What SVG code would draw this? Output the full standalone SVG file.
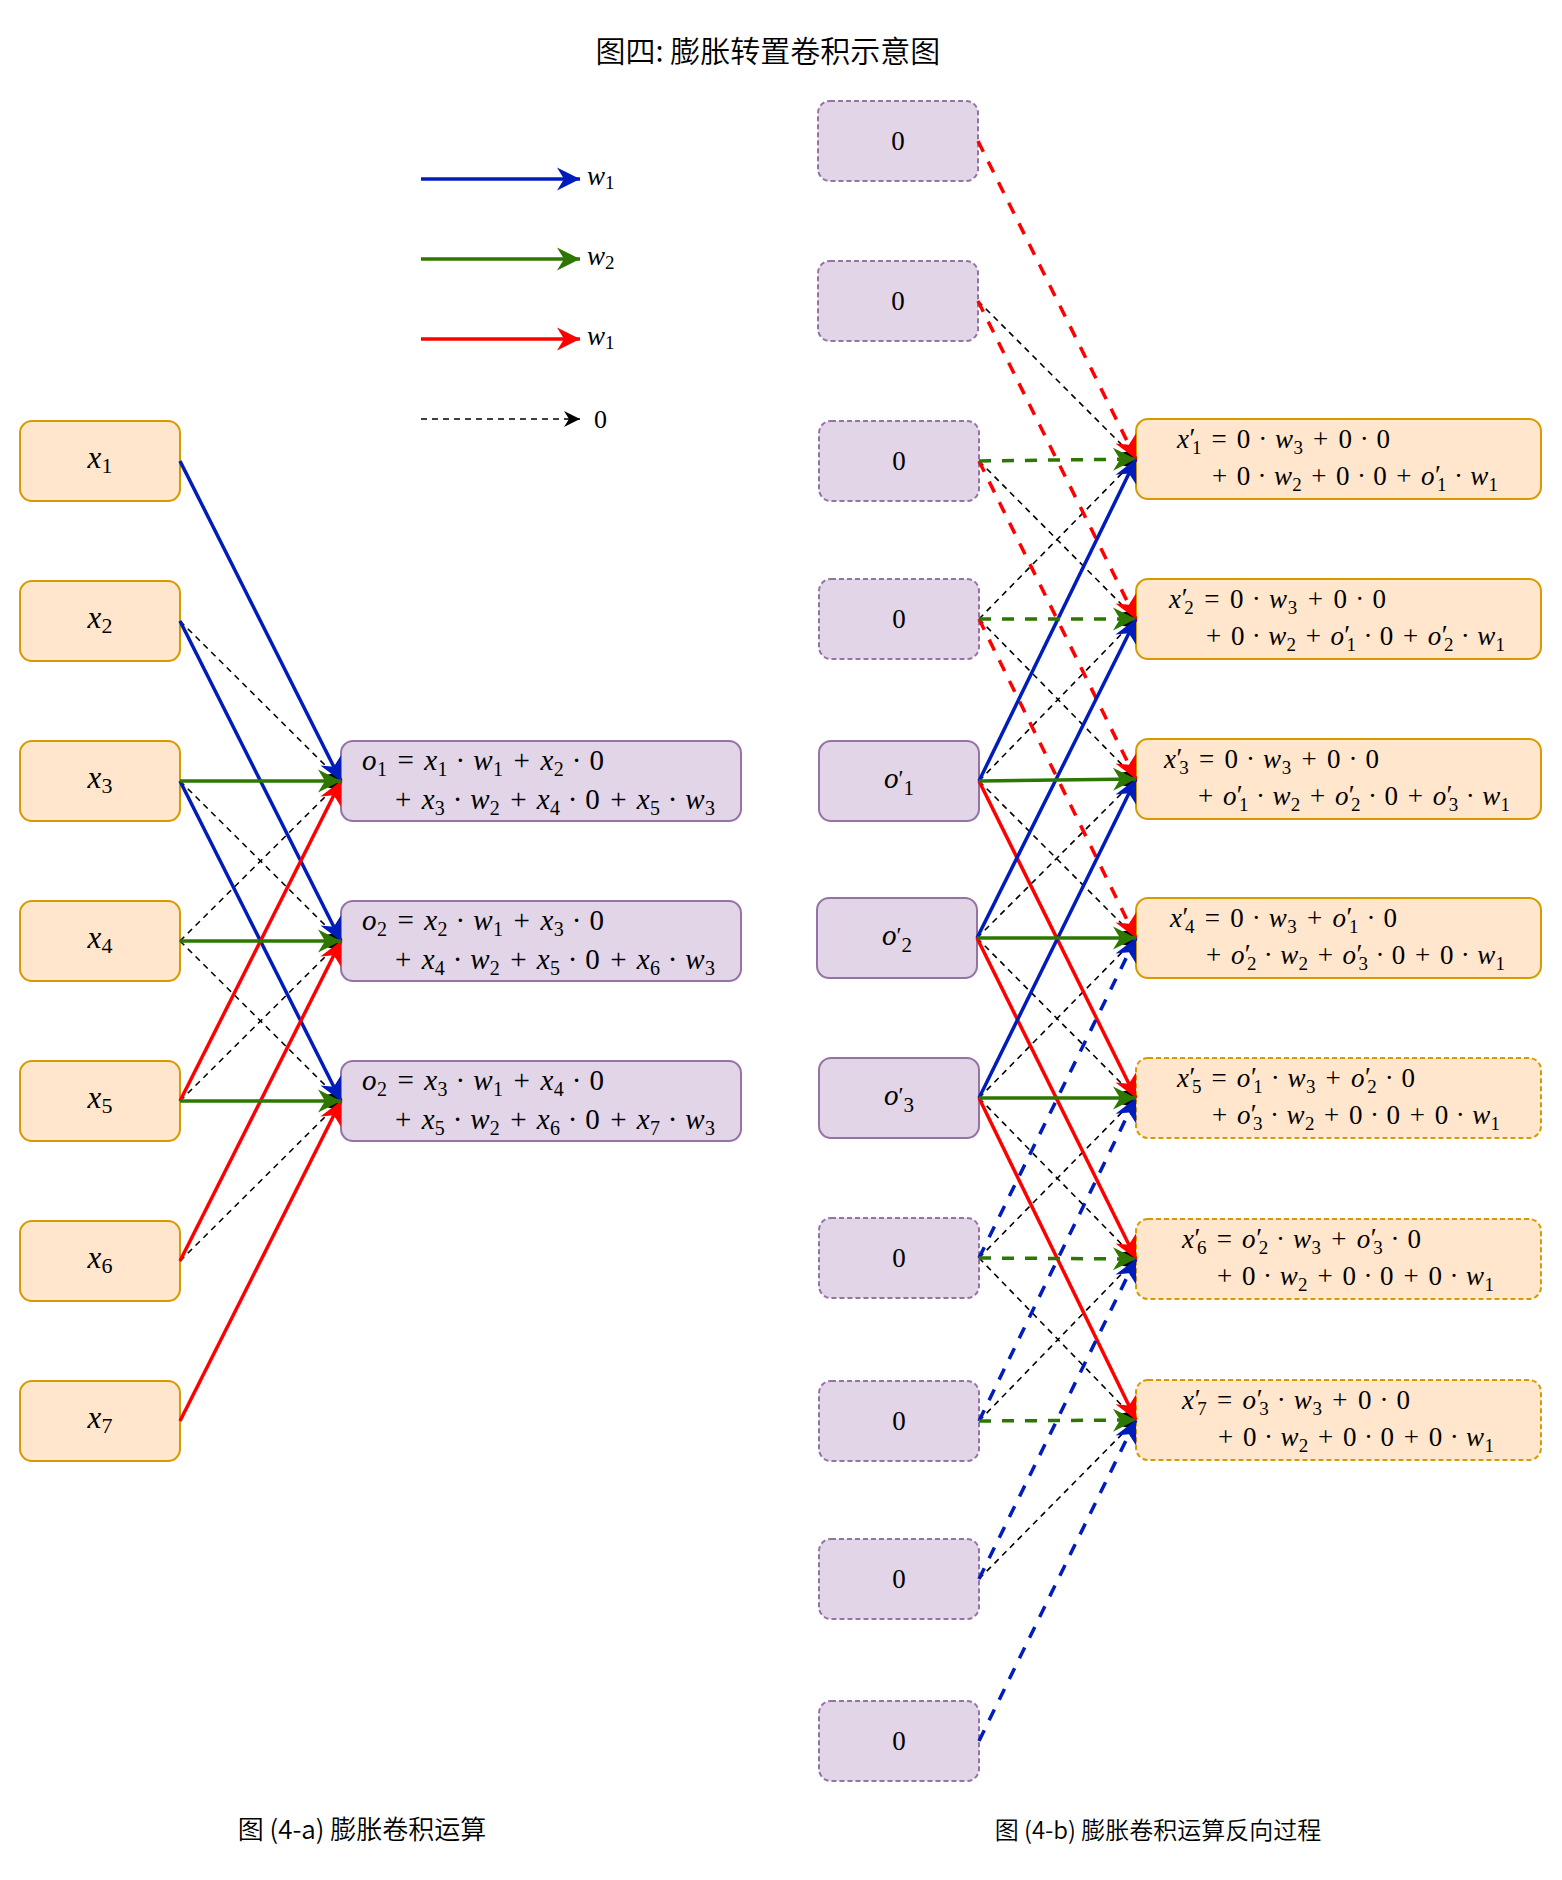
<svg xmlns="http://www.w3.org/2000/svg" width="1562" height="1880" viewBox="0 0 1562 1880">
<style>
.t { font-family: "Noto Sans CJK SC", "Noto Sans", sans-serif; font-weight: 350; fill:#000; }
.m { font-family: "Liberation Serif", "DejaVu Serif", serif; fill:#000; }
.it { font-style: italic; }
.eq { font-size: 27px; }
.eq2 { font-size: 29px; }
.sb { font-size: 19px; }
.sb2 { font-size: 20px; }
.nOr { fill:#ffe6cc; stroke:#d79b00; stroke-width:2; }
.nPu { fill:#e1d5e7; stroke:#9673a6; stroke-width:2; }
.dsh { stroke-dasharray: 5 3; }
.c { fill:none; stroke-width:3.5; }
.cb { stroke:#001DBC; marker-end:url(#mB); }
.cg { stroke:#2D7600; marker-end:url(#mG); }
.cr { stroke:#FF0000; marker-end:url(#mR); }
.d { stroke-dasharray: 12 11; }
.k { fill:none; stroke:#000; stroke-width:1.6; stroke-dasharray:6 5; marker-end:url(#mK); }
</style>
<defs>
<marker id="mB" viewBox="-26 -14 28 28" refX="0" refY="0" markerWidth="28" markerHeight="28" markerUnits="userSpaceOnUse" orient="auto"><path d="M0,0 L-23,-11.5 L-16,0 L-23,11.5 Z" fill="#001DBC"/></marker>
<marker id="mG" viewBox="-26 -14 28 28" refX="0" refY="0" markerWidth="28" markerHeight="28" markerUnits="userSpaceOnUse" orient="auto"><path d="M0,0 L-23,-11.5 L-16,0 L-23,11.5 Z" fill="#2D7600"/></marker>
<marker id="mR" viewBox="-26 -14 28 28" refX="0" refY="0" markerWidth="28" markerHeight="28" markerUnits="userSpaceOnUse" orient="auto"><path d="M0,0 L-23,-11.5 L-16,0 L-23,11.5 Z" fill="#FF0000"/></marker>
<marker id="mK" viewBox="-18 -10 20 20" refX="0" refY="0" markerWidth="20" markerHeight="20" markerUnits="userSpaceOnUse" orient="auto"><path d="M0,0 L-16,-8 L-11,0 L-16,8 Z" fill="#000"/></marker>
</defs>
<rect x="0" y="0" width="1562" height="1880" fill="#ffffff"/>

<g id="title"><text class="t" x="768" y="62" font-size="30" text-anchor="middle">图四: 膨胀转置卷积示意图</text></g>

<g id="legend">
<line class="c cb" x1="421" y1="179" x2="580" y2="179"/>
<line class="c cg" x1="421" y1="259" x2="580" y2="259"/>
<line class="c cr" x1="421" y1="339" x2="580" y2="339"/>
<line class="k" x1="421" y1="419" x2="580" y2="419"/>
<text class="m" x="587" y="185" font-size="27" fill="#0000FF"><tspan class="it">w</tspan><tspan font-size="19" dy="4">1</tspan></text>
<text class="m" x="587" y="265" font-size="27" fill="#2D7600"><tspan class="it">w</tspan><tspan font-size="19" dy="4">2</tspan></text>
<text class="m" x="587" y="345" font-size="27" fill="#FF0000"><tspan class="it">w</tspan><tspan font-size="19" dy="4">1</tspan></text>
<text class="m" x="600.5" y="428" font-size="26" text-anchor="middle">0</text>
</g>

<!-- left input nodes -->
<g id="x1"><rect class="nOr" x="20" y="421" width="160" height="80" rx="12"/><text class="m" x="100" y="468" font-size="31" text-anchor="middle"><tspan class="it">x</tspan><tspan font-size="22" dy="5">1</tspan></text></g>
<g id="x2"><rect class="nOr" x="20" y="581" width="160" height="80" rx="12"/><text class="m" x="100" y="628" font-size="31" text-anchor="middle"><tspan class="it">x</tspan><tspan font-size="22" dy="5">2</tspan></text></g>
<g id="x3"><rect class="nOr" x="20" y="741" width="160" height="80" rx="12"/><text class="m" x="100" y="788" font-size="31" text-anchor="middle"><tspan class="it">x</tspan><tspan font-size="22" dy="5">3</tspan></text></g>
<g id="x4"><rect class="nOr" x="20" y="901" width="160" height="80" rx="12"/><text class="m" x="100" y="948" font-size="31" text-anchor="middle"><tspan class="it">x</tspan><tspan font-size="22" dy="5">4</tspan></text></g>
<g id="x5"><rect class="nOr" x="20" y="1061" width="160" height="80" rx="12"/><text class="m" x="100" y="1108" font-size="31" text-anchor="middle"><tspan class="it">x</tspan><tspan font-size="22" dy="5">5</tspan></text></g>
<g id="x6"><rect class="nOr" x="20" y="1221" width="160" height="80" rx="12"/><text class="m" x="100" y="1268" font-size="31" text-anchor="middle"><tspan class="it">x</tspan><tspan font-size="22" dy="5">6</tspan></text></g>
<g id="x7"><rect class="nOr" x="20" y="1381" width="160" height="80" rx="12"/><text class="m" x="100" y="1428" font-size="31" text-anchor="middle"><tspan class="it">x</tspan><tspan font-size="22" dy="5">7</tspan></text></g>

<!-- left output nodes -->
<g id="o1"><rect class="nPu" x="341" y="741" width="400" height="80" rx="12"/>
<text class="m eq2" x="362" y="770" textLength="242"><tspan class="it">o</tspan><tspan class="sb2" dy="6">1</tspan><tspan dy="-6">&#8196;=&#8196;</tspan><tspan class="it">x</tspan><tspan class="sb2" dy="6">1</tspan><tspan dy="-6"> · </tspan><tspan class="it">w</tspan><tspan class="sb2" dy="6">1</tspan><tspan dy="-6">&#8196;+&#8196;</tspan><tspan class="it">x</tspan><tspan class="sb2" dy="6">2</tspan><tspan dy="-6"> · 0</tspan></text>
<text class="m eq2" x="395" y="809" textLength="320">+&#8196;<tspan class="it">x</tspan><tspan class="sb2" dy="6">3</tspan><tspan dy="-6"> · </tspan><tspan class="it">w</tspan><tspan class="sb2" dy="6">2</tspan><tspan dy="-6">&#8196;+&#8196;</tspan><tspan class="it">x</tspan><tspan class="sb2" dy="6">4</tspan><tspan dy="-6"> · 0&#8196;+&#8196;</tspan><tspan class="it">x</tspan><tspan class="sb2" dy="6">5</tspan><tspan dy="-6"> · </tspan><tspan class="it">w</tspan><tspan class="sb2" dy="6">3</tspan></text></g>
<g id="o2"><rect class="nPu" x="341" y="901" width="400" height="80" rx="12"/>
<text class="m eq2" x="362" y="930" textLength="242"><tspan class="it">o</tspan><tspan class="sb2" dy="6">2</tspan><tspan dy="-6">&#8196;=&#8196;</tspan><tspan class="it">x</tspan><tspan class="sb2" dy="6">2</tspan><tspan dy="-6"> · </tspan><tspan class="it">w</tspan><tspan class="sb2" dy="6">1</tspan><tspan dy="-6">&#8196;+&#8196;</tspan><tspan class="it">x</tspan><tspan class="sb2" dy="6">3</tspan><tspan dy="-6"> · 0</tspan></text>
<text class="m eq2" x="395" y="969" textLength="320">+&#8196;<tspan class="it">x</tspan><tspan class="sb2" dy="6">4</tspan><tspan dy="-6"> · </tspan><tspan class="it">w</tspan><tspan class="sb2" dy="6">2</tspan><tspan dy="-6">&#8196;+&#8196;</tspan><tspan class="it">x</tspan><tspan class="sb2" dy="6">5</tspan><tspan dy="-6"> · 0&#8196;+&#8196;</tspan><tspan class="it">x</tspan><tspan class="sb2" dy="6">6</tspan><tspan dy="-6"> · </tspan><tspan class="it">w</tspan><tspan class="sb2" dy="6">3</tspan></text></g>
<g id="o3"><rect class="nPu" x="341" y="1061" width="400" height="80" rx="12"/>
<text class="m eq2" x="362" y="1090" textLength="242"><tspan class="it">o</tspan><tspan class="sb2" dy="6">2</tspan><tspan dy="-6">&#8196;=&#8196;</tspan><tspan class="it">x</tspan><tspan class="sb2" dy="6">3</tspan><tspan dy="-6"> · </tspan><tspan class="it">w</tspan><tspan class="sb2" dy="6">1</tspan><tspan dy="-6">&#8196;+&#8196;</tspan><tspan class="it">x</tspan><tspan class="sb2" dy="6">4</tspan><tspan dy="-6"> · 0</tspan></text>
<text class="m eq2" x="395" y="1129" textLength="320">+&#8196;<tspan class="it">x</tspan><tspan class="sb2" dy="6">5</tspan><tspan dy="-6"> · </tspan><tspan class="it">w</tspan><tspan class="sb2" dy="6">2</tspan><tspan dy="-6">&#8196;+&#8196;</tspan><tspan class="it">x</tspan><tspan class="sb2" dy="6">6</tspan><tspan dy="-6"> · 0&#8196;+&#8196;</tspan><tspan class="it">x</tspan><tspan class="sb2" dy="6">7</tspan><tspan dy="-6"> · </tspan><tspan class="it">w</tspan><tspan class="sb2" dy="6">3</tspan></text></g>

<!-- right source column -->
<g id="r1"><rect class="nPu dsh" x="818" y="101" width="160" height="80" rx="12"/><text class="m" x="898" y="149.5" font-size="27" text-anchor="middle">0</text></g>
<g id="r2"><rect class="nPu dsh" x="818" y="261" width="160" height="80" rx="12"/><text class="m" x="898" y="309.5" font-size="27" text-anchor="middle">0</text></g>
<g id="r3"><rect class="nPu dsh" x="819" y="421" width="160" height="80" rx="12"/><text class="m" x="899" y="469.5" font-size="27" text-anchor="middle">0</text></g>
<g id="r4"><rect class="nPu dsh" x="819" y="579" width="160" height="80" rx="12"/><text class="m" x="899" y="627.5" font-size="27" text-anchor="middle">0</text></g>
<g id="r5"><rect class="nPu" x="819" y="741" width="160" height="80" rx="12"/><text class="m" x="899" y="788" font-size="29" text-anchor="middle"><tspan class="it">o</tspan><tspan font-size="23" dy="-2">′</tspan><tspan font-size="21" dy="9">1</tspan></text></g>
<g id="r6"><rect class="nPu" x="817" y="898" width="160" height="80" rx="12"/><text class="m" x="897" y="945" font-size="29" text-anchor="middle"><tspan class="it">o</tspan><tspan font-size="23" dy="-2">′</tspan><tspan font-size="21" dy="9">2</tspan></text></g>
<g id="r7"><rect class="nPu" x="819" y="1058" width="160" height="80" rx="12"/><text class="m" x="899" y="1105" font-size="29" text-anchor="middle"><tspan class="it">o</tspan><tspan font-size="23" dy="-2">′</tspan><tspan font-size="21" dy="9">3</tspan></text></g>
<g id="r8"><rect class="nPu dsh" x="819" y="1218" width="160" height="80" rx="12"/><text class="m" x="899" y="1266.5" font-size="27" text-anchor="middle">0</text></g>
<g id="r9"><rect class="nPu dsh" x="819" y="1381" width="160" height="80" rx="12"/><text class="m" x="899" y="1429.5" font-size="27" text-anchor="middle">0</text></g>
<g id="r10"><rect class="nPu dsh" x="819" y="1539" width="160" height="80" rx="12"/><text class="m" x="899" y="1587.5" font-size="27" text-anchor="middle">0</text></g>
<g id="r11"><rect class="nPu dsh" x="819" y="1701" width="160" height="80" rx="12"/><text class="m" x="899" y="1749.5" font-size="27" text-anchor="middle">0</text></g>

<!-- right target column -->
<g id="xp1"><rect class="nOr" x="1136" y="419" width="405" height="80" rx="12"/>
<text class="m eq" x="1177" y="447.5" textLength="213"><tspan class="it">x</tspan><tspan dy="-1">′</tspan><tspan class="sb" dx="-4" dy="7">1</tspan><tspan dy="-6">&#8196;=&#8196;0 · </tspan><tspan class="it">w</tspan><tspan class="sb" dy="6">3</tspan><tspan dy="-6">&#8196;+&#8196;0 · 0</tspan></text>
<text class="m eq" x="1212" y="484.5" textLength="286">+&#8196;0 · <tspan class="it">w</tspan><tspan class="sb" dy="6">2</tspan><tspan dy="-6">&#8196;+&#8196;0 · 0&#8196;+&#8196;</tspan><tspan class="it">o</tspan><tspan dy="-1">′</tspan><tspan class="sb" dx="-4" dy="7">1</tspan><tspan dy="-6"> · </tspan><tspan class="it">w</tspan><tspan class="sb" dy="6">1</tspan></text></g>
<g id="xp2"><rect class="nOr" x="1136" y="579" width="405" height="80" rx="12"/>
<text class="m eq" x="1169" y="607.5" textLength="217"><tspan class="it">x</tspan><tspan dy="-1">′</tspan><tspan class="sb" dx="-4" dy="7">2</tspan><tspan dy="-6">&#8196;=&#8196;0 · </tspan><tspan class="it">w</tspan><tspan class="sb" dy="6">3</tspan><tspan dy="-6">&#8196;+&#8196;0 · 0</tspan></text>
<text class="m eq" x="1206" y="644.5" textLength="299">+&#8196;0 · <tspan class="it">w</tspan><tspan class="sb" dy="6">2</tspan><tspan dy="-6">&#8196;+&#8196;</tspan><tspan class="it">o</tspan><tspan dy="-1">′</tspan><tspan class="sb" dx="-4" dy="7">1</tspan><tspan dy="-6"> · 0&#8196;+&#8196;</tspan><tspan class="it">o</tspan><tspan dy="-1">′</tspan><tspan class="sb" dx="-4" dy="7">2</tspan><tspan dy="-6"> · </tspan><tspan class="it">w</tspan><tspan class="sb" dy="6">1</tspan></text></g>
<g id="xp3"><rect class="nOr" x="1136" y="739" width="405" height="80" rx="12"/>
<text class="m eq" x="1164" y="767.5" textLength="215"><tspan class="it">x</tspan><tspan dy="-1">′</tspan><tspan class="sb" dx="-4" dy="7">3</tspan><tspan dy="-6">&#8196;=&#8196;0 · </tspan><tspan class="it">w</tspan><tspan class="sb" dy="6">3</tspan><tspan dy="-6">&#8196;+&#8196;0 · 0</tspan></text>
<text class="m eq" x="1198" y="804.5" textLength="312">+&#8196;<tspan class="it">o</tspan><tspan dy="-1">′</tspan><tspan class="sb" dx="-4" dy="7">1</tspan><tspan dy="-6"> · </tspan><tspan class="it">w</tspan><tspan class="sb" dy="6">2</tspan><tspan dy="-6">&#8196;+&#8196;</tspan><tspan class="it">o</tspan><tspan dy="-1">′</tspan><tspan class="sb" dx="-4" dy="7">2</tspan><tspan dy="-6"> · 0&#8196;+&#8196;</tspan><tspan class="it">o</tspan><tspan dy="-1">′</tspan><tspan class="sb" dx="-4" dy="7">3</tspan><tspan dy="-6"> · </tspan><tspan class="it">w</tspan><tspan class="sb" dy="6">1</tspan></text></g>
<g id="xp4"><rect class="nOr" x="1136" y="898" width="405" height="80" rx="12"/>
<text class="m eq" x="1170" y="926.5" textLength="227"><tspan class="it">x</tspan><tspan dy="-1">′</tspan><tspan class="sb" dx="-4" dy="7">4</tspan><tspan dy="-6">&#8196;=&#8196;0 · </tspan><tspan class="it">w</tspan><tspan class="sb" dy="6">3</tspan><tspan dy="-6">&#8196;+&#8196;</tspan><tspan class="it">o</tspan><tspan dy="-1">′</tspan><tspan class="sb" dx="-4" dy="7">1</tspan><tspan dy="-6"> · 0</tspan></text>
<text class="m eq" x="1206" y="963.5" textLength="299">+&#8196;<tspan class="it">o</tspan><tspan dy="-1">′</tspan><tspan class="sb" dx="-4" dy="7">2</tspan><tspan dy="-6"> · </tspan><tspan class="it">w</tspan><tspan class="sb" dy="6">2</tspan><tspan dy="-6">&#8196;+&#8196;</tspan><tspan class="it">o</tspan><tspan dy="-1">′</tspan><tspan class="sb" dx="-4" dy="7">3</tspan><tspan dy="-6"> · 0&#8196;+&#8196;0 · </tspan><tspan class="it">w</tspan><tspan class="sb" dy="6">1</tspan></text></g>
<g id="xp5"><rect class="nOr dsh" x="1136" y="1058" width="405" height="80" rx="12"/>
<text class="m eq" x="1177" y="1086.5" textLength="238"><tspan class="it">x</tspan><tspan dy="-1">′</tspan><tspan class="sb" dx="-4" dy="7">5</tspan><tspan dy="-6">&#8196;=&#8196;</tspan><tspan class="it">o</tspan><tspan dy="-1">′</tspan><tspan class="sb" dx="-4" dy="7">1</tspan><tspan dy="-6"> · </tspan><tspan class="it">w</tspan><tspan class="sb" dy="6">3</tspan><tspan dy="-6">&#8196;+&#8196;</tspan><tspan class="it">o</tspan><tspan dy="-1">′</tspan><tspan class="sb" dx="-4" dy="7">2</tspan><tspan dy="-6"> · 0</tspan></text>
<text class="m eq" x="1212" y="1123.5" textLength="288">+&#8196;<tspan class="it">o</tspan><tspan dy="-1">′</tspan><tspan class="sb" dx="-4" dy="7">3</tspan><tspan dy="-6"> · </tspan><tspan class="it">w</tspan><tspan class="sb" dy="6">2</tspan><tspan dy="-6">&#8196;+&#8196;0 · 0&#8196;+&#8196;0 · </tspan><tspan class="it">w</tspan><tspan class="sb" dy="6">1</tspan></text></g>
<g id="xp6"><rect class="nOr dsh" x="1136" y="1219" width="405" height="80" rx="12"/>
<text class="m eq" x="1182" y="1247.5" textLength="239"><tspan class="it">x</tspan><tspan dy="-1">′</tspan><tspan class="sb" dx="-4" dy="7">6</tspan><tspan dy="-6">&#8196;=&#8196;</tspan><tspan class="it">o</tspan><tspan dy="-1">′</tspan><tspan class="sb" dx="-4" dy="7">2</tspan><tspan dy="-6"> · </tspan><tspan class="it">w</tspan><tspan class="sb" dy="6">3</tspan><tspan dy="-6">&#8196;+&#8196;</tspan><tspan class="it">o</tspan><tspan dy="-1">′</tspan><tspan class="sb" dx="-4" dy="7">3</tspan><tspan dy="-6"> · 0</tspan></text>
<text class="m eq" x="1217" y="1284.5" textLength="277">+&#8196;0 · <tspan class="it">w</tspan><tspan class="sb" dy="6">2</tspan><tspan dy="-6">&#8196;+&#8196;0 · 0&#8196;+&#8196;0 · </tspan><tspan class="it">w</tspan><tspan class="sb" dy="6">1</tspan></text></g>
<g id="xp7"><rect class="nOr dsh" x="1136" y="1380" width="405" height="80" rx="12"/>
<text class="m eq" x="1182" y="1408.5" textLength="228"><tspan class="it">x</tspan><tspan dy="-1">′</tspan><tspan class="sb" dx="-4" dy="7">7</tspan><tspan dy="-6">&#8196;=&#8196;</tspan><tspan class="it">o</tspan><tspan dy="-1">′</tspan><tspan class="sb" dx="-4" dy="7">3</tspan><tspan dy="-6"> · </tspan><tspan class="it">w</tspan><tspan class="sb" dy="6">3</tspan><tspan dy="-6">&#8196;+&#8196;0 · 0</tspan></text>
<text class="m eq" x="1218" y="1445.5" textLength="276">+&#8196;0 · <tspan class="it">w</tspan><tspan class="sb" dy="6">2</tspan><tspan dy="-6">&#8196;+&#8196;0 · 0&#8196;+&#8196;0 · </tspan><tspan class="it">w</tspan><tspan class="sb" dy="6">1</tspan></text></g>

<g id="connectors">
<!-- left: dilated convolution -->
<line class="k" x1="180" y1="621" x2="341" y2="781"/>
<line class="k" x1="180" y1="941" x2="341" y2="781"/>
<line class="k" x1="180" y1="781" x2="341" y2="941"/>
<line class="k" x1="180" y1="1101" x2="341" y2="941"/>
<line class="k" x1="180" y1="941" x2="341" y2="1101"/>
<line class="k" x1="180" y1="1261" x2="341" y2="1101"/>
<line class="c cb" x1="180" y1="461" x2="341" y2="781"/>
<line class="c cb" x1="180" y1="621" x2="341" y2="941"/>
<line class="c cb" x1="180" y1="781" x2="341" y2="1101"/>
<line class="c cr" x1="180" y1="1101" x2="341" y2="781"/>
<line class="c cr" x1="180" y1="1261" x2="341" y2="941"/>
<line class="c cr" x1="180" y1="1421" x2="341" y2="1101"/>
<line class="c cg" x1="180" y1="781" x2="341" y2="781"/>
<line class="c cg" x1="180" y1="941" x2="341" y2="941"/>
<line class="c cg" x1="180" y1="1101" x2="341" y2="1101"/>

<!-- right: backward pass, dotted zero-weight edges -->
<line class="k" x1="978" y1="301" x2="1136" y2="459"/>
<line class="k" x1="979" y1="619" x2="1136" y2="459"/>
<line class="k" x1="979" y1="461" x2="1136" y2="619"/>
<line class="k" x1="979" y1="781" x2="1136" y2="619"/>
<line class="k" x1="979" y1="619" x2="1136" y2="779"/>
<line class="k" x1="977" y1="938" x2="1136" y2="779"/>
<line class="k" x1="979" y1="781" x2="1136" y2="938"/>
<line class="k" x1="979" y1="1098" x2="1136" y2="938"/>
<line class="k" x1="977" y1="938" x2="1136" y2="1098"/>
<line class="k" x1="979" y1="1258" x2="1136" y2="1098"/>
<line class="k" x1="979" y1="1098" x2="1136" y2="1259"/>
<line class="k" x1="979" y1="1421" x2="1136" y2="1259"/>
<line class="k" x1="979" y1="1258" x2="1136" y2="1420"/>
<line class="k" x1="979" y1="1579" x2="1136" y2="1420"/>

<!-- red (w3) -->
<line class="c cr d" x1="978" y1="141" x2="1136" y2="459"/>
<line class="c cr d" x1="978" y1="301" x2="1136" y2="619"/>
<line class="c cr d" x1="979" y1="461" x2="1136" y2="779"/>
<line class="c cr d" x1="979" y1="619" x2="1136" y2="938"/>
<line class="c cr" x1="979" y1="781" x2="1136" y2="1098"/>
<line class="c cr" x1="977" y1="938" x2="1136" y2="1259"/>
<line class="c cr" x1="979" y1="1098" x2="1136" y2="1420"/>

<!-- blue (w1) -->
<line class="c cb" x1="979" y1="781" x2="1136" y2="459"/>
<line class="c cb" x1="977" y1="938" x2="1136" y2="619"/>
<line class="c cb" x1="979" y1="1098" x2="1136" y2="779"/>
<line class="c cb d" x1="979" y1="1258" x2="1136" y2="938"/>
<line class="c cb d" x1="979" y1="1421" x2="1136" y2="1098"/>
<line class="c cb d" x1="979" y1="1579" x2="1136" y2="1259"/>
<line class="c cb d" x1="979" y1="1741" x2="1136" y2="1420"/>

<!-- green (w2) -->
<line class="c cg d" x1="979" y1="461" x2="1136" y2="459"/>
<line class="c cg d" x1="979" y1="619" x2="1136" y2="619"/>
<line class="c cg" x1="979" y1="781" x2="1136" y2="779"/>
<line class="c cg" x1="977" y1="938" x2="1136" y2="938"/>
<line class="c cg" x1="979" y1="1098" x2="1136" y2="1098"/>
<line class="c cg d" x1="979" y1="1258" x2="1136" y2="1259"/>
<line class="c cg d" x1="979" y1="1421" x2="1136" y2="1420"/>
</g>

<g id="captions">
<text class="t" x="362" y="1839" font-size="26" text-anchor="middle">图 (4-a) 膨胀卷积运算</text>
<text class="t" x="1158" y="1839" font-size="24" text-anchor="middle">图 (4-b) 膨胀卷积运算反向过程</text>
</g>
</svg>
